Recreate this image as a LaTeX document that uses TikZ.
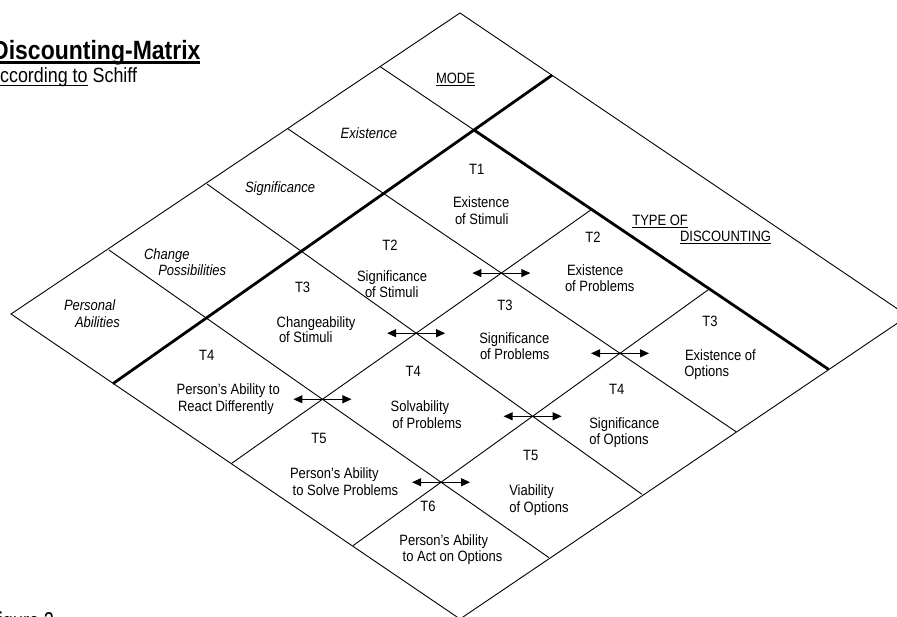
\documentclass[tikz,border=0pt]{standalone}
\usepackage{fontspec}
\setmainfont{Liberation Sans}
\usepackage{graphicx}
\usetikzlibrary{arrows.meta}
\newcommand{\myul}[3]{\setbox0\hbox{#3}\rlap{\rule[-#1]{\wd0}{#2}}\box0\relax}
\newcommand{\vs}[1]{\scalebox{1}[1.15]{#1}}
\begin{document}
\begin{tikzpicture}[x=1pt,y=-1pt,
  gridline/.style={line width=0.9pt},
  boldline/.style={line width=2.8pt},
  txt/.style={inner sep=0pt, outer sep=0pt, anchor=base west, font=\fontsize{13}{15}\selectfont},
  itxt/.style={txt, font=\fontsize{13}{15}\selectfont\itshape},
  dbl/.style={line width=0.9pt, {Triangle[length=9pt,width=8pt]}-{Triangle[length=9pt,width=8pt]}}]
\useasboundingbox (0,0) rectangle (897,616);
\clip (0,0) rectangle (897,616);
% frame
\coordinate (T) at (460,13);
\coordinate (R) at (908,316);
\coordinate (B) at (460,619);
\coordinate (L) at (11,314);
\coordinate (p0a) at (552,75.2);
\coordinate (p0b) at (113,383.6);
\coordinate (q0a) at (380.1,66.6);
\coordinate (q0m) at (474,130);
\coordinate (q0b) at (828.6,369.4);
\coordinate (q1a) at (287.6,128.6);
\coordinate (q1b) at (736,431.7);
\coordinate (q2a) at (207,184);
\coordinate (q2b) at (642,494.3);
\coordinate (q3a) at (109,250);
\coordinate (q3b) at (549,557.7);
\coordinate (p1a) at (591.6,209.4);
\coordinate (p1b) at (231.7,463.3);
\coordinate (p2a) at (709.4,288.9);
\coordinate (p2b) at (353.1,545.6);
\draw[gridline] (T) -- (R) -- (B) -- (L) -- cycle;
\draw[gridline] (q0a) -- (q0m);
\draw[gridline] (q1a) -- (q1b);
\draw[gridline] (q2a) -- (q2b);
\draw[gridline] (q3a) -- (q3b);
\draw[gridline] (p1a) -- (p1b);
\draw[gridline] (p2a) -- (p2b);
\draw[boldline] (p0a) -- (p0b);
\draw[boldline] (q0m) -- (q0b);
% intersections and arrows
\coordinate (x11) at (intersection of p1a--p1b and q1a--q1b);
\coordinate (x12) at (intersection of p1a--p1b and q2a--q2b);
\coordinate (x13) at (intersection of p1a--p1b and q3a--q3b);
\coordinate (x21) at (intersection of p2a--p2b and q1a--q1b);
\coordinate (x22) at (intersection of p2a--p2b and q2a--q2b);
\coordinate (x23) at (intersection of p2a--p2b and q3a--q3b);
\foreach \c in {x11,x12,x13,x21,x22,x23}{
  \draw[dbl] ([xshift=-29pt]\c) -- ([xshift=29pt]\c);
}
% title
\node[anchor=base west, inner sep=0pt] (title) at (-8,59.3)
  {\fontsize{23}{26}\selectfont\bfseries\vs{\myul{3.8pt}{2.2pt}{Discounting-Matrix}}};
\node[anchor=base west, inner sep=0pt] (subtitle) at (-12,82.5)
  {\fontsize{17.9}{21}\selectfont\vs{\myul{3.2pt}{1.3pt}{According to}\ Schiff}};
\node[anchor=base west, inner sep=0pt] (caption) at (-12.2,629.5)
  {\fontsize{18}{21}\selectfont\scalebox{1}[1.35]{Figure 2}};
% headers
\node[txt] (mode) at (436,83.3) {\vs{\myul{2.2pt}{0.9pt}{MODE}}};
\node[txt] (typea) at (632.3,225.7) {\vs{\myul{2.2pt}{0.9pt}{TYPE OF}}};
\node[txt] (typeb) at (680,241.7) {\vs{\myul{2.2pt}{0.9pt}{DISCOUNTING}}};
% mode column
\node[itxt] (m1) at (340.7,138.3) {\vs{Existence}};
\node[itxt] (m2) at (245,192.7) {\vs{Significance}};
\node[itxt] (m3a) at (144,259.3) {\vs{Change}};
\node[itxt] (m3b) at (158.3,275.7) {\vs{Possibilities}};
\node[itxt] (m4a) at (64,310) {\vs{Personal}};
\node[itxt] (m4b) at (75,327.3) {\vs{Abilities}};
% cells
\node[txt] (c1t) at (469.1,174.3) {\vs{T1}};
\node[txt] (c1a) at (453,207.5) {\vs{Existence}};
\node[txt] (c1b) at (455,224) {\vs{of Stimuli}};
\node[txt] (c2t) at (382.4,250) {\vs{T2}};
\node[txt] (c2a) at (357,281) {\vs{Significance}};
\node[txt] (c2b) at (365,297) {\vs{of Stimuli}};
\node[txt] (c3t) at (585.4,242) {\vs{T2}};
\node[txt] (c3a) at (567,275) {\vs{Existence}};
\node[txt] (c3b) at (565,291) {\vs{of Problems}};
\node[txt] (c4t) at (295,292.7) {\vs{T3}};
\node[txt] (c4a) at (276.7,327.3) {\vs{Changeability}};
\node[txt] (c4b) at (279,342.7) {\vs{of Stimuli}};
\node[txt] (c5t) at (497.4,310) {\vs{T3}};
\node[txt] (c5a) at (479.3,343.3) {\vs{Significance}};
\node[txt] (c5b) at (480,359.3) {\vs{of Problems}};
\node[txt] (c6t) at (702.4,326.7) {\vs{T3}};
\node[txt] (c6a) at (685,360) {\vs{Existence of}};
\node[txt] (c6b) at (684.3,376.7) {\vs{Options}};
\node[txt] (c7t) at (199.1,360) {\vs{T4}};
\node[txt] (c7a) at (176.7,394) {\vs{Person’s Ability to}};
\node[txt] (c7b) at (178,411.7) {\vs{React Differently}};
\node[txt] (c8t) at (405.7,376.7) {\vs{T4}};
\node[txt] (c8a) at (390.7,411.7) {\vs{Solvability}};
\node[txt] (c8b) at (392.3,428.3) {\vs{of Problems}};
\node[txt] (c9t) at (609.1,394.3) {\vs{T4}};
\node[txt] (c9a) at (589.3,428.3) {\vs{Significance}};
\node[txt] (c9b) at (589.3,444) {\vs{of Options}};
\node[txt] (c10t) at (311.4,443.3) {\vs{T5}};
\node[txt] (c10a) at (290,478.3) {\vs{Person’s Ability}};
\node[txt] (c10b) at (292.7,495) {\vs{to Solve Problems}};
\node[txt] (c11t) at (523.1,460) {\vs{T5}};
\node[txt] (c11a) at (509.3,495.7) {\vs{Viability}};
\node[txt] (c11b) at (509.3,512.3) {\vs{of Options}};
\node[txt] (c12t) at (420.4,511) {\vs{T6}};
\node[txt] (c12a) at (399.4,545) {\vs{Person’s Ability}};
\node[txt] (c12b) at (402.7,561.7) {\vs{to Act on Options}};
\end{tikzpicture}
\end{document}
